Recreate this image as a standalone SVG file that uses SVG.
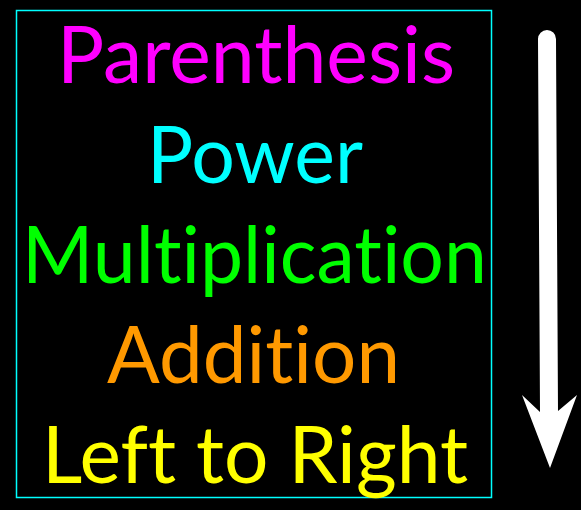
<svg xmlns="http://www.w3.org/2000/svg" width="581" height="510" viewBox="0 0 581 510">
<style>
.t{font-family:Lato,"Open Sans","Liberation Sans",sans-serif;font-size:80px;text-anchor:middle;font-variant-ligatures:none;font-feature-settings:"liga" 0,"clig" 0}
</style>
<rect x="0" y="0" width="581" height="510" fill="#000"/>
<g id="box">
<rect x="16.5" y="10.5" width="475" height="487" fill="none" stroke="#00FFFF" stroke-width="1.5"/>
</g>
<g id="labels">
<text class="t" x="256" y="83" fill="#FF00FF" textLength="398" lengthAdjust="spacingAndGlyphs">Parenthesis</text>
<text class="t" x="255" y="183" fill="#00FFFF" textLength="216" lengthAdjust="spacingAndGlyphs">Power</text>
<text class="t" x="254.5" y="283" fill="#00FF00" textLength="465" lengthAdjust="spacingAndGlyphs">Multiplication</text>
<text class="t" x="253.5" y="383" fill="#FF9900" textLength="293" lengthAdjust="spacingAndGlyphs">Addition</text>
<text class="t" x="255" y="483" fill="#FFFF00" textLength="426" lengthAdjust="spacingAndGlyphs">Left to Right</text>
</g>
<g id="connectors">
<line x1="547" y1="39" x2="549" y2="412" stroke="#fff" stroke-width="18" stroke-linecap="round"/>
<polygon points="522,395 540,412 558,411 577,395 550,468" fill="#fff"/>
</g>
</svg>
